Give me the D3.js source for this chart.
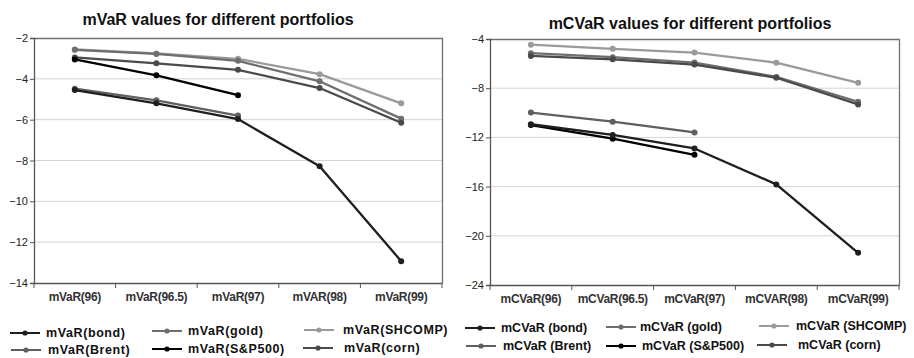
<!DOCTYPE html>
<html>
<head>
<meta charset="utf-8">
<script src="https://cdn.jsdelivr.net/npm/d3@7"></script>
<style>
  body { margin: 0; background: #fff; }
  svg { display: block; font-family: "Liberation Sans", Arial, sans-serif; }
</style>
</head>
<body>
<div id="chart-container"></div>
<script>
// categories (x axis)
const varCats = ['mVaR(96)', 'mVaR(96.5)', 'mVaR(97)', 'mVAR(98)', 'mVaR(99)']
const cvarCats = ['mCVaR(96)', 'mCVaR(96.5)', 'mCVaR(97)', 'mCVAR(98)', 'mCVaR(99)']

// series names
const seriesKeys = ['bond', 'gold', 'SHCOMP', 'Brent', 'S&P500', 'corn']

// mVaR values (null = no value)
const varBond = [-4.55, -5.2, -5.97, -8.28, -12.93]
const varGold = [-2.58, -2.78, -3.12, -4.12, -5.95]
const varShcomp = [-2.56, -2.76, -3.02, -3.77, -5.2]
const varBrent = [-4.48, -5.05, -5.8, null, null]
const varSp500 = [-3.05, -3.83, -4.8, null, null]
const varCorn = [-2.95, -3.24, -3.56, -4.45, -6.15]

// mCVaR values
const cvarBond = [-10.93, -11.8, -12.9, -15.82, -21.38]
const cvarGold = [-5.15, -5.48, -5.92, -7.08, -9.1]
const cvarShcomp = [-4.46, -4.8, -5.1, -5.93, -7.56]
const cvarBrent = [-9.98, -10.72, -11.6, null, null]
const cvarSp500 = [-11.0, -12.1, -13.42, null, null]
const cvarCorn = [-5.38, -5.65, -6.08, -7.15, -9.32]

// tick values
const varTicks = [-2, -4, -6, -8, -10, -12, -14]
const cvarTicks = [-4, -8, -12, -16, -20, -24]

const colors = {
  bond: '#1e1e1e',
  gold: '#6e6e6e',
  SHCOMP: '#9a9a9a',
  Brent: '#5f5f5f',
  'S&P500': '#000000',
  corn: '#4a4a4a'
}
// draw order so dark lines sit on top like the original
const drawOrder = ['SHCOMP', 'gold', 'Brent', 'corn', 'S&P500', 'bond']

const width = 914
const height = 358

const svg = d3.select('#chart-container')
  .append('svg')
  .attr('width', width)
  .attr('height', height)

function drawPanel (opts) {
  const {cats, series, ticks, prefix, title, left, right, top, bottom, titleX, titleY, legend, legSpacing} = opts

  const xScale = d3.scaleBand()
    .domain(cats)
    .range([left, right])

  const yScale = d3.scaleLinear()
    .domain([d3.min(ticks), d3.max(ticks)])
    .range([bottom, top])

  const g = svg.append('g')

  // gridlines
  g.selectAll('line.grid')
    .data(ticks.slice(1, -1))
    .join('line')
    .attr('class', 'grid')
    .attr('x1', left)
    .attr('x2', right)
    .attr('y1', d => yScale(d))
    .attr('y2', d => yScale(d))
    .attr('stroke', '#d4d4d4')
    .attr('stroke-width', 1)

  // top + right border
  g.append('path')
    .attr('d', `M${left},${top + 0.5}H${right + 0.5}V${bottom}`)
    .attr('fill', 'none')
    .attr('stroke', '#707070')
    .attr('stroke-width', 1.3)

  // y axis
  const yAxis = d3.axisLeft(yScale)
    .tickValues(ticks)
    .tickSize(4)
    .tickPadding(2)
  const yG = g.append('g')
    .attr('transform', `translate(${left}, 0)`)
    .call(yAxis)
  yG.select('.domain').attr('stroke', '#555').attr('stroke-width', 1.3)
  yG.selectAll('.tick line').attr('stroke', '#555')
  yG.selectAll('.tick text')
    .attr('font-size', 11)
    .attr('fill', '#222')
    .attr('font-family', '"Liberation Sans", Arial, sans-serif')

  // x axis
  const xAxis = d3.axisBottom(xScale)
    .tickSize(0)
    .tickPadding(9)
  const xG = g.append('g')
    .attr('transform', `translate(0, ${bottom})`)
    .call(xAxis)
  xG.select('.domain').attr('stroke', '#555').attr('stroke-width', 1.3)
  xG.selectAll('.tick text')
    .attr('font-size', 12)
    .attr('font-weight', 'bold')
    .attr('fill', '#333')
    .attr('font-family', '"Liberation Sans", Arial, sans-serif')
    .attr('letter-spacing', '-0.3px')
  // boundary tick marks between categories
  const bounds = cats.map(c => xScale(c)).concat([right])
  xG.selectAll('line.bound')
    .data(bounds)
    .join('line')
    .attr('class', 'bound')
    .attr('x1', d => d)
    .attr('x2', d => d)
    .attr('y1', 0)
    .attr('y2', 5)
    .attr('stroke', '#555')

  // lines
  const line = d3.line()
    .defined(d => d.v !== null)
    .x(d => xScale(d.c) + xScale.bandwidth() / 2)
    .y(d => yScale(d.v))

  drawOrder.forEach(key => {
    const pts = cats.map((c, i) => ({c, v: series[key][i]}))
    g.append('path')
      .datum(pts)
      .attr('d', line)
      .attr('fill', 'none')
      .attr('stroke', colors[key])
      .attr('stroke-width', 2.3)
      .attr('stroke-linejoin', 'round')
    g.selectAll(null)
      .data(pts.filter(d => d.v !== null))
      .join('circle')
      .attr('cx', d => xScale(d.c) + xScale.bandwidth() / 2)
      .attr('cy', d => yScale(d.v))
      .attr('r', 3)
      .attr('fill', colors[key])
  })

  // title
  g.append('text')
    .attr('x', titleX)
    .attr('y', titleY)
    .attr('text-anchor', 'middle')
    .attr('font-size', 16)
    .attr('font-weight', 'bold')
    .attr('fill', '#111')
    .text(title)

  // legend
  const lg = g.selectAll('g.leg')
    .data(legend)
    .join('g')
    .attr('class', 'leg')
    .attr('transform', d => `translate(${d.x}, ${d.y})`)
  lg.append('line')
    .attr('x1', 0)
    .attr('x2', 30)
    .attr('y1', 0)
    .attr('y2', 0)
    .attr('stroke', d => colors[d.key])
    .attr('stroke-width', 2)
  lg.append('circle')
    .attr('cx', 15)
    .attr('cy', 0)
    .attr('r', 2.6)
    .attr('fill', d => colors[d.key])
  lg.append('text')
    .attr('x', d => d.tx)
    .attr('y', 4)
    .attr('font-size', 12.5)
    .attr('font-weight', 'bold')
    .attr('fill', '#111')
    .attr('letter-spacing', legSpacing)
    .text(d => `${prefix}${d.gap}(${d.key})`)
}

drawPanel({
  cats: varCats,
  series: {bond: varBond, gold: varGold, SHCOMP: varShcomp, Brent: varBrent, 'S&P500': varSp500, corn: varCorn},
  ticks: varTicks,
  prefix: 'mVaR',
  title: 'mVaR values for different portfolios',
  left: 34,
  right: 442,
  top: 38,
  bottom: 283,
  titleX: 218,
  titleY: 25,
  legSpacing: '0.6px',
  legend: [
    {key: 'bond', x: 10, y: 333, tx: 36, gap: ''},
    {key: 'gold', x: 152, y: 331, tx: 36, gap: ''},
    {key: 'SHCOMP', x: 304, y: 330, tx: 39, gap: ''},
    {key: 'Brent', x: 11, y: 350, tx: 37, gap: ''},
    {key: 'S&P500', x: 152, y: 349, tx: 36, gap: ''},
    {key: 'corn', x: 303, y: 348, tx: 41, gap: ''}
  ]
})

drawPanel({
  cats: cvarCats,
  series: {bond: cvarBond, gold: cvarGold, SHCOMP: cvarShcomp, Brent: cvarBrent, 'S&P500': cvarSp500, corn: cvarCorn},
  ticks: cvarTicks,
  prefix: 'mCVaR',
  title: 'mCVaR values for different portfolios',
  left: 490,
  right: 899,
  top: 39,
  bottom: 285,
  titleX: 690,
  titleY: 29,
  legSpacing: '0px',
  legend: [
    {key: 'bond', x: 465, y: 328, tx: 36, gap: ' '},
    {key: 'gold', x: 606, y: 327, tx: 34, gap: ' '},
    {key: 'SHCOMP', x: 759, y: 326, tx: 37, gap: ' '},
    {key: 'Brent', x: 466, y: 346, tx: 37, gap: ' '},
    {key: 'S&P500', x: 606, y: 346, tx: 36, gap: ' '},
    {key: 'corn', x: 757, y: 345, tx: 41, gap: ' '}
  ]
})
</script>
</body>
</html>
